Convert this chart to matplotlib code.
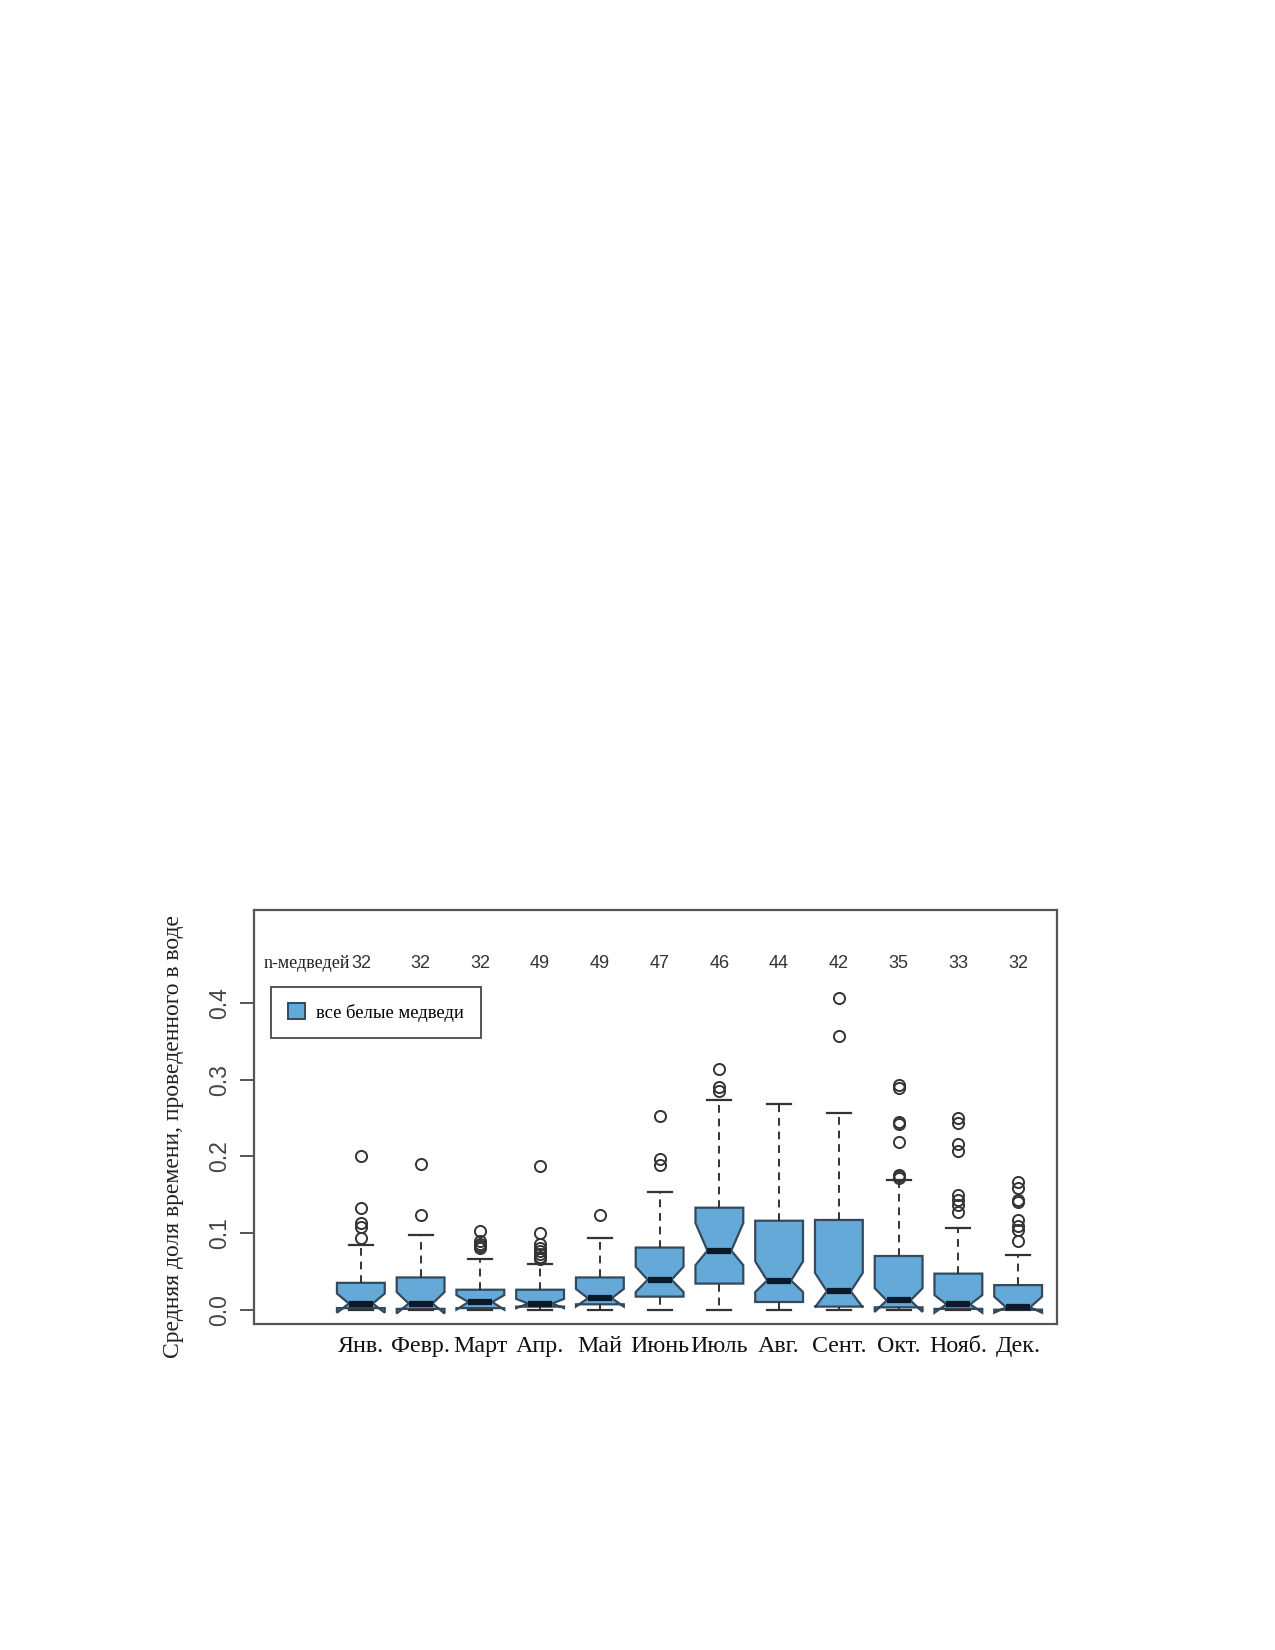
import matplotlib.pyplot as plt
from matplotlib.patches import Patch

# months and number of bears per month
months = ["Янв.", "Февр.", "Март", "Апр.", "Май", "Июнь",
          "Июль", "Авг.", "Сент.", "Окт.", "Нояб.", "Дек."]
n_bears = [32, 32, 32, 49, 49, 47, 46, 44, 42, 35, 33, 32]

# box statistics
med = [0.008, 0.008, 0.010, 0.008, 0.015, 0.039, 0.077, 0.038, 0.024, 0.012, 0.007, 0.003]
q1 = [0.002, 0.001, 0.002, 0.004, 0.007, 0.017, 0.034, 0.010, 0.004, 0.003, 0.001, 0.000]
q3 = [0.035, 0.042, 0.026, 0.026, 0.042, 0.081, 0.133, 0.116, 0.117, 0.070, 0.047, 0.032]
cilo = [-0.004, -0.005, 0.000, 0.002, 0.004, 0.023, 0.058, 0.023, 0.003, -0.003, -0.004, -0.004]
cihi = [0.021, 0.023, 0.019, 0.014, 0.027, 0.056, 0.113, 0.063, 0.048, 0.028, 0.019, 0.017]
whislo = [0.0] * 12
whishi = [0.084, 0.097, 0.066, 0.060, 0.094, 0.154, 0.274, 0.268, 0.257, 0.169, 0.107, 0.071]
fliers = [
    [0.200, 0.132, 0.113, 0.108, 0.094],
    [0.190, 0.124],
    [0.102, 0.089, 0.086, 0.083, 0.080],
    [0.187, 0.100, 0.085, 0.081, 0.077, 0.073, 0.069, 0.066],
    [0.124],
    [0.252, 0.197, 0.189],
    [0.314, 0.291, 0.285],
    [],
    [0.407, 0.357],
    [0.293, 0.289, 0.245, 0.242, 0.219, 0.176, 0.174, 0.172],
    [0.250, 0.243, 0.216, 0.207, 0.150, 0.143, 0.136, 0.128],
    [0.166, 0.159, 0.143, 0.140, 0.117, 0.109, 0.104, 0.090],
]

box_color = "#64a9d8"
edge_color = "#34495c"
serif = ["Liberation Serif", "DejaVu Serif"]
sans = ["Liberation Sans", "DejaVu Sans"]

stats = []
for i in range(len(months)):
    stats.append(dict(med=med[i], q1=q1[i], q3=q3[i], cilo=cilo[i], cihi=cihi[i],
                      whislo=whislo[i], whishi=whishi[i], fliers=fliers[i]))

positions = list(range(1, len(months) + 1))

fig = plt.figure(figsize=(12.75, 16.5), dpi=100)
ax = fig.add_axes([0.1996, 0.1973, 0.6294, 0.2509])

ax.bxp(stats, positions=positions, widths=0.8, capwidths=0.4,
       shownotches=True, patch_artist=True, manage_ticks=False,
       boxprops=dict(facecolor=box_color, edgecolor=edge_color, linewidth=1.6),
       medianprops=dict(color="#0a1a2a", linewidth=4.5, solid_capstyle="butt"),
       whiskerprops=dict(color="#333333", linewidth=1.4, linestyle=(0, (4, 3))),
       capprops=dict(color="#333333", linewidth=1.6),
       flierprops=dict(marker="o", markerfacecolor="none", markeredgecolor="#333333",
                       markersize=8, markeredgewidth=1.4))

ax.set_xlim(-0.78, 12.65)
ax.set_ylim(-0.0193, 0.5207)

# counts of bears above boxes
for x, n in zip(positions, n_bears):
    ax.text(x, 0.451, str(n), ha="center", va="center", fontsize=13,
            family=sans, color="#333333")
ax.text(0.82, 0.451, "n-медведей", ha="right", va="center", fontsize=13,
        family=serif, color="#222222")

ax.set_xticks(positions)
ax.set_xticklabels(months, family=serif, fontsize=17.3, color="#111111")
ax.tick_params(axis="x", length=0, pad=8)

yticks = [0.0, 0.1, 0.2, 0.3, 0.4]
ax.set_yticks(yticks)
ax.set_yticklabels([f"{v:.1f}" for v in yticks], family=sans, fontsize=16.5,
                   color="#444444", rotation=90, va="center")
ax.tick_params(axis="y", length=10, width=1.4, color="#555555", pad=7)

for s in ax.spines.values():
    s.set_color("#555555")
    s.set_linewidth(1.6)

fig.text(173.6 / 1275, 1 - 1136 / 1650, "Средняя доля времени, проведенного в воде",
         rotation=90, ha="center", va="center", family=serif, fontsize=17,
         color="#222222")

leg = ax.legend(handles=[Patch(facecolor=box_color, edgecolor=edge_color, linewidth=1.4)],
                labels=["все белые медведи"], loc="upper left",
                bbox_to_anchor=(0.021, 0.816), borderaxespad=0,
                prop=dict(family=serif, size=13.4), fancybox=False,
                edgecolor="#555555", framealpha=1, borderpad=0.9,
                handlelength=0.9, handleheight=0.9, handletextpad=0.6)
leg.get_frame().set_linewidth(1.4)

fig.savefig("out.png", dpi=100)
